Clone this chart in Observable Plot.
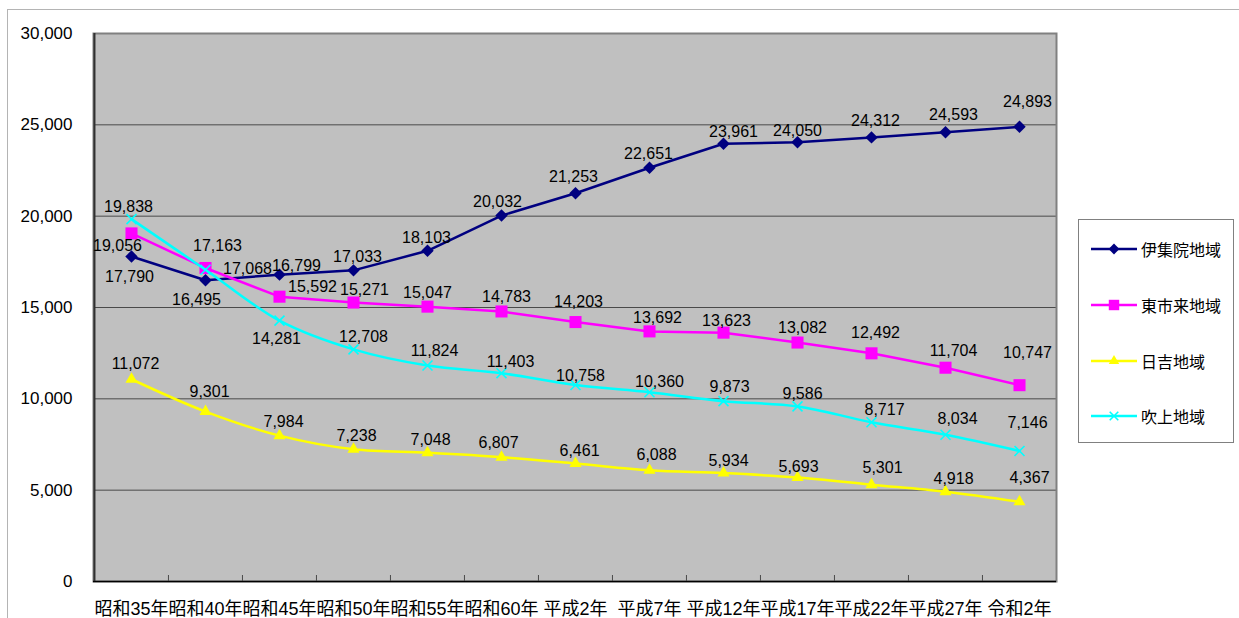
<!DOCTYPE html>
<html>
<head>
<meta charset="utf-8">
<script src="https://cdn.jsdelivr.net/npm/d3@7"></script>
<script src="https://cdn.jsdelivr.net/npm/@observablehq/plot@0.6"></script>
<style>
  html, body { margin: 0; padding: 0; background: #fff; overflow: hidden; width: 1239px; height: 618px; }
  #wrap { position: relative; width: 1239px; height: 618px; }
  #outer { position: absolute; left: 7px; top: 9px; width: 1400px; height: 800px; border: 1px solid #b4b4b4; box-sizing: border-box; }
  #chart { position: absolute; left: 0; top: 0; }
  #legend { position: absolute; left: 1078px; top: 219px; width: 156px; height: 224px; border: 1px solid #808080; box-sizing: border-box; background: #fff;
            font-family: 'Liberation Sans', 'Noto Sans CJK JP', sans-serif; font-size: 16px; color: #000; }
  .item { position: absolute; left: 12px; height: 20px; display: flex; align-items: center; }
  .item svg { display: block; }
  .item span { margin-left: 4px; white-space: nowrap; }
</style>
</head>
<body>
<div id="wrap">
  <div id="outer"></div>
  <div id="chart"></div>
  <div id="legend"></div>
</div>
<script>
// ---- data ----
const years = ["昭和35年","昭和40年","昭和45年","昭和50年","昭和55年","昭和60年","平成2年","平成7年","平成12年","平成17年","平成22年","平成27年","令和2年"];
const seriesNames = ["伊集院地域","東市来地域","日吉地域","吹上地域"];
const ijuin = [17790,16495,16799,17033,18103,20032,21253,22651,23961,24050,24312,24593,24893];
const higashiichiki = [19056,17163,15592,15271,15047,14783,14203,13692,13623,13082,12492,11704,10747];
const hiyoshi = [11072,9301,7984,7238,7048,6807,6461,6088,5934,5693,5301,4918,4367];
const fukiage = [19838,17068,14281,12708,11824,11403,10758,10360,9873,9586,8717,8034,7146];
const yTicks = [0,5000,10000,15000,20000,25000,30000];

// ---- styling / label layout ----
const seriesValues = [ijuin, higashiichiki, hiyoshi, fukiage];
const colors = ["#000080","#ff00ff","#ffff00","#00ffff"];
const symbols = ["diamond2","square","triangle","times"];
const radii = [5.6, 6.8, 4.5, 4.6];
const curves = ["linear","linear","catmull-rom","catmull-rom"];
const labelNudge = [
  [[-2,20],[-9,20],[17,-9],[4,-13],[-1,-13],[-4,-14],[-2,-16],[-1,-14],[10,-12],[0,-11],[4,-17],[8,-17],[8,-25]],
  [[-14,12],[12,-22],[33,-10],[11,-13],[0,-14],[5,-15],[3,-20],[8,-14],[3,-12],[5,-15],[4,-20],[8,-17],[8,-32]],
  [[4,-15],[4,-20],[4,-14],[3,-13],[3,-13],[-3,-14],[4,-13],[7,-15],[5,-12],[1,-11],[11,-17],[8,-13],[10,-24]],
  [[-3,-12],[42,-1],[-3,18],[10,-12],[7,-15],[9,-11],[5,-9],[10,-10],[6,-14],[5,-13],[13,-12],[12,-16],[8,-28]]
];

const font = "'Liberation Sans', 'Noto Sans CJK JP', sans-serif";
const fmt = d3.format(",");

const W = 1239, H = 618;
const mL = 93, mR = 183, mT = 33, mB = 37;
const halfStep = (W - mL - mR) / years.length / 2;

const rows = seriesValues.map((vals, s) => vals.map((v, i) => ({series: seriesNames[s], year: years[i], value: v, s, i})));

const marks = [
  Plot.frame({fill: "#c0c0c0", stroke: null}),
  Plot.ruleY(yTicks.filter(v => v > yTicks[0] && v < yTicks[yTicks.length - 1]), {stroke: "#4a4a4a", strokeWidth: 1}),
  Plot.tickX(years, {x: d => d, dx: -halfStep, insetTop: (H - mT - mB) - 6, stroke: "#4a4a4a", strokeWidth: 1}),
  Plot.frame({stroke: "#808080", strokeWidth: 2}),
  Plot.ruleY([yTicks[0]], {stroke: "#000", strokeWidth: 1.5}),
  Plot.ruleX([years[0]], {dx: -halfStep, stroke: "#303030", strokeWidth: 2}),
  Plot.axisY({ticks: yTicks, tickFormat: fmt, tickSize: 0, tickPadding: 21, fontSize: 17, label: null}),
  Plot.axisX({tickSize: 0, tickPadding: 21, fontSize: 18, label: null})
];

rows.forEach((data, s) => {
  marks.push(Plot.line(data, {x: "year", y: "value", stroke: colors[s], strokeWidth: 2.5, curve: curves[s]}));
  if (symbols[s] === "times") {
    marks.push(Plot.dot(data, {x: "year", y: "value", symbol: symbols[s], r: radii[s], stroke: colors[s], strokeWidth: 1.6, fill: "none"}));
  } else {
    marks.push(Plot.dot(data, {x: "year", y: "value", symbol: symbols[s], r: radii[s], fill: colors[s], stroke: "none"}));
  }
});

rows.forEach((data, s) => {
  data.forEach((d, i) => {
    const [dx, dy] = labelNudge[s][i];
    marks.push(Plot.text([d], {x: "year", y: "value", text: d => fmt(d.value), dx, dy, fontSize: 16, fill: "#000"}));
  });
});

const chart = Plot.plot({
  width: W, height: H,
  marginLeft: mL, marginRight: mR, marginTop: mT, marginBottom: mB,
  style: {fontFamily: font, background: "transparent", color: "#000"},
  x: {type: "point", domain: years, padding: 0.5},
  y: {domain: [yTicks[0], yTicks[yTicks.length - 1]]},
  marks
});
document.getElementById("chart").appendChild(chart);

// ---- legend ----
const legend = document.getElementById("legend");
const centers = [29, 85, 141, 196];
seriesNames.forEach((name, s) => {
  const item = document.createElement("div");
  item.className = "item";
  item.style.top = (centers[s] - 10) + "px";
  const svg = d3.create("svg").attr("width", 46).attr("height", 20);
  svg.append("line").attr("x1", 0).attr("x2", 46).attr("y1", 10).attr("y2", 10)
     .attr("stroke", colors[s]).attr("stroke-width", 2.5);
  const symMap = {diamond2: d3.symbolDiamond2, square: d3.symbolSquare, triangle: d3.symbolTriangle, times: d3.symbolTimes};
  const size = Math.PI * radii[s] * radii[s] * 0.75;
  const p = svg.append("path").attr("transform", "translate(23,10)").attr("d", d3.symbol(symMap[symbols[s]], size)());
  if (symbols[s] === "times") p.attr("fill", "none").attr("stroke", colors[s]).attr("stroke-width", 1.6);
  else p.attr("fill", colors[s]);
  item.appendChild(svg.node());
  const span = document.createElement("span");
  span.textContent = name;
  item.appendChild(span);
  legend.appendChild(item);
});
</script>
</body>
</html>
